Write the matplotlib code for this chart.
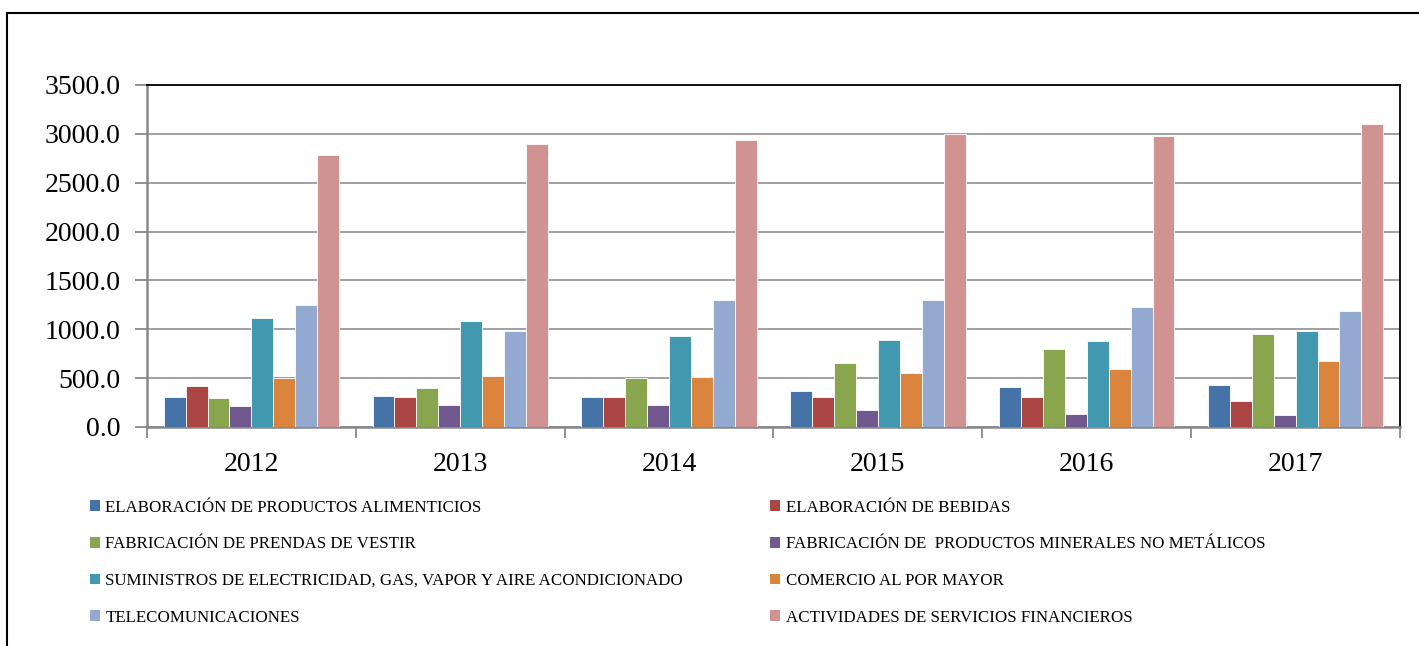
import numpy as np
import matplotlib
matplotlib.use("Agg")
from matplotlib import pyplot as plt
from matplotlib.patches import Patch
from matplotlib.lines import Line2D

# data
years = ["2012", "2013", "2014", "2015", "2016", "2017"]

series_names = [
    "ELABORACIÓN DE PRODUCTOS ALIMENTICIOS",
    "ELABORACIÓN DE BEBIDAS",
    "FABRICACIÓN DE PRENDAS DE VESTIR",
    "FABRICACIÓN DE  PRODUCTOS MINERALES NO METÁLICOS",
    "SUMINISTROS DE ELECTRICIDAD, GAS, VAPOR Y AIRE ACONDICIONADO",
    "COMERCIO AL POR MAYOR",
    "TELECOMUNICACIONES",
    "ACTIVIDADES DE SERVICIOS FINANCIEROS",
]

alimenticios = [311, 318, 311, 372, 410, 434]
bebidas = [424, 310, 311, 308, 308, 270]
prendas = [296, 403, 502, 655, 798, 948]
minerales = [220, 225, 225, 176, 132, 124]
electricidad = [1118, 1085, 930, 888, 880, 985]
comercio = [503, 522, 515, 550, 590, 676]
telecom = [1246, 978, 1298, 1298, 1230, 1186]
financieros = [2786, 2895, 2942, 3000, 2976, 3102]

values = [alimenticios, bebidas, prendas, minerales,
          electricidad, comercio, telecom, financieros]

colors = ["#4572A7", "#AA4643", "#89A54E", "#71588F",
          "#4198AF", "#DB843D", "#93A9CF", "#D19392"]

font = "Liberation Serif"
plt.rcParams["font.family"] = font

fig = plt.figure(figsize=(14.19, 6.46), dpi=100)
ax = fig.add_axes([147 / 1419, 1 - 427 / 646, 1253 / 1419, 342 / 646])

x = np.arange(len(years))
n = len(values)
group = 0.84
w = group / n
for i, (vals, c) in enumerate(zip(values, colors)):
    ax.bar(x - group / 2 + w * (i + 0.5), vals, width=w, color=c,
           edgecolor="white", linewidth=0.6, zorder=3)

ax.set_xlim(-0.5, len(years) - 0.5)
ax.set_ylim(0, 3500)
ax.set_yticks(np.arange(0, 3501, 500))
ax.set_yticklabels(["%.1f" % v for v in np.arange(0, 3501, 500)], fontsize=20)
ax.grid(axis="y", color="#999999", linewidth=1.3, zorder=0)

# category boundaries as major ticks, labels at centres
ax.set_xticks(np.arange(-0.5, len(years), 1.0))
ax.set_xticklabels([])
ax.set_xticks(x, minor=True)
ax.set_xticklabels(years, minor=True, fontsize=20)
ax.tick_params(axis="x", which="major", length=8, color="#888888", width=1.3)
ax.tick_params(axis="x", which="minor", length=0, pad=18)
ax.tick_params(axis="y", length=9, color="#888888", width=1.3, pad=10)

for s in ["left", "bottom"]:
    ax.spines[s].set_color("#888888")
    ax.spines[s].set_linewidth(1.8)
for s in ["top", "right"]:
    ax.spines[s].set_color("black")
    ax.spines[s].set_linewidth(1.3)

# legend is filled row by row in the reference
order = [0, 2, 4, 6, 1, 3, 5, 7]
handles = [Patch(facecolor=colors[k], edgecolor="none") for k in order]
labels = [series_names[k] for k in order]
fig.legend(handles, labels, loc="upper left",
           bbox_to_anchor=(90 / 1419, 1 - 506 / 646, 1175 / 1419, 0.01),
           mode="expand", ncol=2, frameon=False, fontsize=12.2,
           handlelength=0.6, handleheight=0.6, handletextpad=0.3,
           labelspacing=1.22, borderaxespad=0, borderpad=0)

# outer chart border (top and left edges visible)
fig.add_artist(Line2D([7 / 1419, 1.0], [1 - 13 / 646, 1 - 13 / 646],
                      color="black", linewidth=1.5, transform=fig.transFigure))
fig.add_artist(Line2D([7 / 1419, 7 / 1419], [0.0, 1 - 13 / 646],
                      color="black", linewidth=1.5, transform=fig.transFigure))

fig.savefig("out.png", dpi=100)
